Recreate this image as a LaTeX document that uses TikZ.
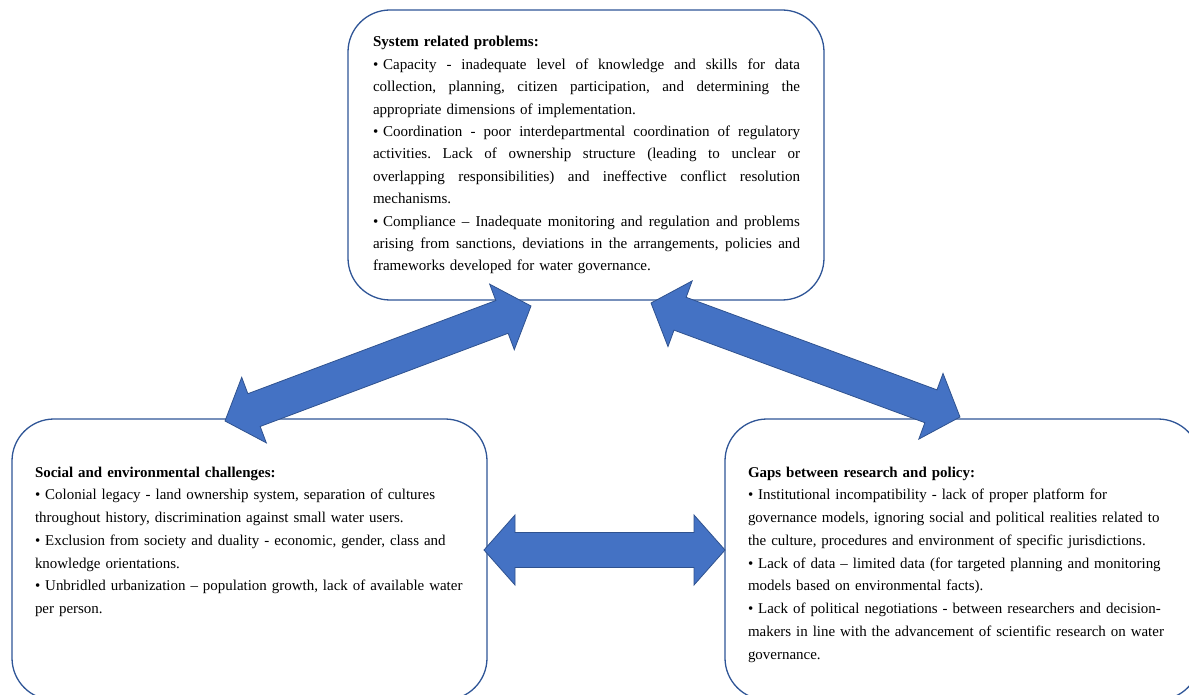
\documentclass[tikz,border=0pt]{standalone}
\usepackage{fontspec}
\setmainfont{Liberation Serif}
\usetikzlibrary{calc}
\definecolor{boxline}{HTML}{2F5597}
\definecolor{arrowfill}{HTML}{4472C4}
\definecolor{arrowline}{HTML}{2F528F}
\newcommand\jline[1]{\hbox to 427pt{\spaceskip=0.25em plus 1fil\relax #1}}
\newcommand\bul{•\hspace{0.32em}}
\newcommand\blockarrow[2]{%
  \path ($(#1)!31pt!(#2)$) coordinate (ha) ($(#2)!31pt!(#1)$) coordinate (hb);
  \draw[arrowshape] (#1) -- ($(ha)!35pt!90:(#2)$) -- ($(ha)!17.5pt!90:(#2)$)
    -- ($(hb)!17.5pt!-90:(#1)$) -- ($(hb)!35pt!-90:(#1)$) -- (#2)
    -- ($(hb)!35pt!90:(#1)$) -- ($(hb)!17.5pt!90:(#1)$)
    -- ($(ha)!17.5pt!-90:(#2)$) -- ($(ha)!35pt!-90:(#2)$) -- cycle;}
\tikzset{
  panel/.style={draw=boxline, line width=1.3pt, rounded corners=42pt, inner sep=0pt, outer sep=0pt},
  arrowshape/.style={fill=arrowfill, draw=arrowline, line width=0.8pt, line join=miter},
  paneltext/.style={anchor=base west, inner sep=0pt, outer sep=0pt, align=left,
    font=\fontsize{14.95}{22.75}\selectfont\frenchspacing},
}
\begin{document}
\begin{tikzpicture}[x=1pt,y=-1pt]
\useasboundingbox (0,0) rectangle (1189,695);
\fill[white] (0,0) rectangle (1189,695);
% panels
\node[panel, minimum width=476pt, minimum height=290pt] (topbox) at (586,155) {};
\node[panel, minimum width=475pt, minimum height=281pt] (leftbox) at (249.5,559.5) {};
\node[panel, minimum width=475pt, minimum height=281pt] (rightbox) at (962.5,559.5) {};
% texts
\node[paneltext, text width=427pt, font=\fontsize{15.05}{22.4}\selectfont\frenchspacing] (toptext) at (373,47) {%
\textbf{System related problems:}\par
\jline{\bul Capacity - inadequate level of knowledge and skills for data}
\jline{collection, planning, citizen participation, and determining the}
appropriate dimensions of implementation.\par
\jline{\bul Coordination - poor interdepartmental coordination of regulatory}
\jline{activities. Lack of ownership structure (leading to unclear or}
\jline{overlapping responsibilities) and ineffective conflict resolution}
mechanisms.\par
\jline{\bul Compliance – Inadequate monitoring and regulation and problems}
\jline{arising from sanctions, deviations in the arrangements, policies and}
frameworks developed for water governance.};
\node[paneltext, text width=445pt] (lefttext) at (35,477) {%
\textbf{Social and environmental challenges:}\\
• Colonial legacy - land ownership system, separation of cultures\\
throughout history, discrimination against small water users.\\
• Exclusion from society and duality - economic, gender, class and\\
knowledge orientations.\\
• Unbridled urbanization – population growth, lack of available water\\
per person.};
\node[paneltext, text width=430pt] (righttext) at (748,477) {%
\textbf{Gaps between research and policy:}\\
• Institutional incompatibility - lack of proper platform for\\
governance models, ignoring social and political realities related to\\
the culture, procedures and environment of specific jurisdictions.\\
• Lack of data – limited data (for targeted planning and monitoring\\
models based on environmental facts).\\
• Lack of political negotiations - between researchers and decision-\\
makers in line with the advancement of scientific research on water\\
governance.};
% arrow end points
\coordinate (ls) at (225,421);
\coordinate (lt) at (531,306);
\coordinate (rs) at (651,303);
\coordinate (rt) at (960,417);
\coordinate (hs) at (484,550);
\coordinate (ht) at (725,550);
\blockarrow{ls}{lt}
\blockarrow{rs}{rt}
\blockarrow{hs}{ht}
\end{tikzpicture}
\end{document}
